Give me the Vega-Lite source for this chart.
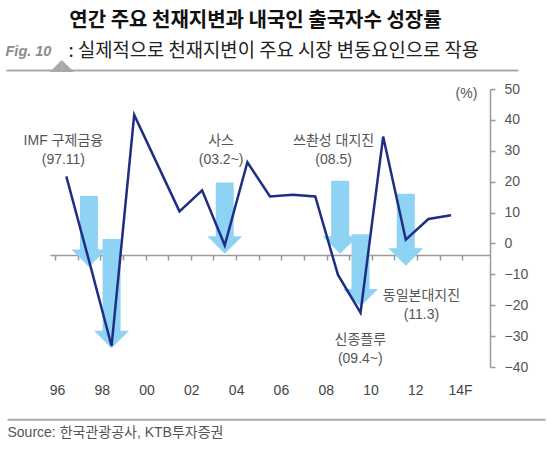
{
  "$schema": "https://vega.github.io/schema/vega-lite/v6.json",
  "width": 485,
  "height": 278,
  "autosize": "none",
  "padding": {"left": 5, "top": 89, "right": 57, "bottom": 86},
  "background": "white",
  "config": {
    "view": {"stroke": null},
    "axis": {"grid": false, "labelFlush": false, "labelOverlap": false},
    "axisY": {"labelOverlap": false}
  },
  "datasets": {
    "growth": [
      {"year": 1996, "value": 21.7},
      {"year": 1997, "value": -5.5},
      {"year": 1998, "value": -33.2},
      {"year": 1999, "value": 41.6},
      {"year": 2000, "value": 26.0},
      {"year": 2001, "value": 10.4},
      {"year": 2002, "value": 17.2},
      {"year": 2003, "value": -0.6},
      {"year": 2004, "value": 26.3},
      {"year": 2005, "value": 15.2},
      {"year": 2006, "value": 15.8},
      {"year": 2007, "value": 15.2},
      {"year": 2008, "value": -10.1},
      {"year": 2009, "value": -22.4},
      {"year": 2010, "value": 34.6},
      {"year": 2011, "value": 1.2},
      {"year": 2012, "value": 7.9},
      {"year": 2013, "value": 9.1}
    ],
    "arrows": [
      {"year": 1997, "top": 15.4, "tip": -7.6},
      {"year": 1998, "top": 1.4, "tip": -33.9},
      {"year": 2003, "top": 19.7, "tip": -3.3},
      {"year": 2008.1, "top": 20.3, "tip": -3.3},
      {"year": 2009, "top": 3.0, "tip": -20.4},
      {"year": 2011, "top": 16.1, "tip": -7.2}
    ],
    "notes": [
      {"year": 1995.87, "value": 33.2, "label": "IMF 구제금융\n(97.11)"},
      {"year": 2002.84, "value": 33.2, "label": "사스\n(03.2~)"},
      {"year": 2007.81, "value": 33.2, "label": "쓰촨성 대지진\n(08.5)"},
      {"year": 2011.69, "value": -16.9, "label": "동일본대지진\n(11.3)"},
      {"year": 2008.99, "value": -31.4, "label": "신종플루\n(09.4~)"}
    ]
  },
  "layer": [
    {
      "encoding": {
        "x": {
          "field": "year",
          "type": "quantitative",
          "scale": {"domain": [1995.5, 2014.5], "range": [45, 485], "nice": false, "zero": false},
          "axis": {
            "orient": "bottom",
            "offset": -112,
            "values": [1995.5, 1996.5, 1997.5, 1998.5, 1999.5, 2000.5, 2001.5, 2002.5, 2003.5, 2004.5, 2005.5, 2006.5, 2007.5, 2008.5, 2009.5, 2010.5, 2011.5, 2012.5, 2013.5],
            "labels": false,
            "ticks": true,
            "tickSize": 5,
            "tickColor": "#9a9a9a",
            "tickWidth": 1.5,
            "domain": true,
            "domainColor": "#9a9a9a",
            "domainWidth": 1.5,
            "grid": false,
            "title": "연간 주요 천재지변과 내국인 출국자수 성장률",
            "titleX": 250,
            "titleY": -235,
            "titleAlign": "center",
            "titleBaseline": "middle",
            "titleFont": "Noto Sans CJK KR",
            "titleFontSize": 20,
            "titleFontWeight": "bold",
            "titleColor": "#111111"
          }
        }
      },
      "layer": [
        {
          "data": {"name": "arrows"},
          "mark": {"type": "bar", "color": "#8fd3f4", "width": 18, "y2Offset": -17},
          "encoding": {
            "y": {
              "field": "top",
              "type": "quantitative",
              "scale": {"domain": [-40, 50], "nice": false, "zero": false},
              "axis": {"orient": "right", "values": [-40, -30, -20, -10, 0, 10, 20, 30, 40, 50], "tickCount": 10, "labelOverlap": false, "labelBound": false, "tickSize": 5, "tickColor": "#9a9a9a", "tickWidth": 1.5, "domainColor": "#9a9a9a", "domainWidth": 1.5, "labelPadding": 9, "labelFont": "Liberation Sans", "labelFontSize": 14, "labelColor": "#555555", "grid": false, "title": "(%)", "titleX": -24, "titleY": 4, "titleAngle": 0, "titleAlign": "center", "titleBaseline": "middle", "titleFont": "Liberation Sans", "titleFontSize": 14, "titleFontWeight": "normal", "titleColor": "#555555"}
            },
            "y2": {"field": "tip"}
          }
        },
        {
          "data": {"name": "arrows"},
          "mark": {"type": "point", "shape": "M-1,-0.5L1,-0.5L0,0.5Z", "size": 1225, "filled": true, "opacity": 1, "color": "#8fd3f4", "strokeWidth": 0, "yOffset": -8.75},
          "encoding": {
            "y": {
              "field": "tip",
              "type": "quantitative",
              "scale": {"domain": [-40, 50], "nice": false, "zero": false},
              "axis": {"orient": "right", "values": [-40, -30, -20, -10, 0, 10, 20, 30, 40, 50], "tickCount": 10, "labelOverlap": false, "labelBound": false, "tickSize": 5, "tickColor": "#9a9a9a", "tickWidth": 1.5, "domainColor": "#9a9a9a", "domainWidth": 1.5, "labelPadding": 9, "labelFont": "Liberation Sans", "labelFontSize": 14, "labelColor": "#555555", "grid": false, "title": "(%)", "titleX": -24, "titleY": 4, "titleAngle": 0, "titleAlign": "center", "titleBaseline": "middle", "titleFont": "Liberation Sans", "titleFontSize": 14, "titleFontWeight": "normal", "titleColor": "#555555"}
            }
          }
        },
        {
          "data": {"name": "growth"},
          "mark": {"type": "line", "color": "#1f2d85", "strokeWidth": 2.5},
          "encoding": {
            "y": {
              "field": "value",
              "type": "quantitative",
              "scale": {"domain": [-40, 50], "nice": false, "zero": false},
              "axis": {"orient": "right", "values": [-40, -30, -20, -10, 0, 10, 20, 30, 40, 50], "tickCount": 10, "labelOverlap": false, "labelBound": false, "tickSize": 5, "tickColor": "#9a9a9a", "tickWidth": 1.5, "domainColor": "#9a9a9a", "domainWidth": 1.5, "labelPadding": 9, "labelFont": "Liberation Sans", "labelFontSize": 14, "labelColor": "#555555", "grid": false, "title": "(%)", "titleX": -24, "titleY": 4, "titleAngle": 0, "titleAlign": "center", "titleBaseline": "middle", "titleFont": "Liberation Sans", "titleFontSize": 14, "titleFontWeight": "normal", "titleColor": "#555555"}
            }
          }
        },
        {
          "data": {"name": "notes"},
          "mark": {"type": "text", "lineBreak": "\n", "lineHeight": 19, "font": "Liberation Sans, Noto Sans CJK KR", "fontSize": 14, "color": "#555555", "align": "center", "baseline": "middle"},
          "encoding": {
            "y": {
              "field": "value",
              "type": "quantitative",
              "scale": {"domain": [-40, 50], "nice": false, "zero": false},
              "axis": {"orient": "right", "values": [-40, -30, -20, -10, 0, 10, 20, 30, 40, 50], "tickCount": 10, "labelOverlap": false, "labelBound": false, "tickSize": 5, "tickColor": "#9a9a9a", "tickWidth": 1.5, "domainColor": "#9a9a9a", "domainWidth": 1.5, "labelPadding": 9, "labelFont": "Liberation Sans", "labelFontSize": 14, "labelColor": "#555555", "grid": false, "title": "(%)", "titleX": -24, "titleY": 4, "titleAngle": 0, "titleAlign": "center", "titleBaseline": "middle", "titleFont": "Liberation Sans", "titleFontSize": 14, "titleFontWeight": "normal", "titleColor": "#555555"}
            },
            "text": {"field": "label"}
          }
        }
      ]
    },
    {
      "data": {"values": []},
      "mark": "point",
      "encoding": {
        "x": {
          "field": "yr",
          "type": "quantitative",
          "scale": {"domain": [1993.767, 2017.795], "range": [2, 540], "nice": false, "zero": false},
          "axis": {
            "orient": "top",
            "offset": -330.3,
            "values": [1996, 1998, 2000, 2002, 2004, 2006, 2008, 2010, 2012, 2014],
            "labelExpr": "datum.value == 2014 ? '14F' : substring(toString(datum.value), 2, 4)",
            "ticks": false,
            "tickSize": 0,
            "domain": true,
            "domainColor": "#a8a8a8",
            "domainWidth": 2,
            "labelPadding": 29,
            "labelBaseline": "middle",
            "labelAlign": "center",
            "labelFont": "Liberation Sans",
            "labelFontSize": 14,
            "labelColor": "#444444",
            "grid": false,
            "title": "Source: 한국관광공사, KTB투자증권",
            "titleX": 2,
            "titleY": 13,
            "titleAlign": "left",
            "titleBaseline": "middle",
            "titleFont": "Liberation Sans, Noto Sans CJK KR",
            "titleFontSize": 14,
            "titleFontWeight": "normal",
            "titleColor": "#555555"
          }
        },
        "y": {
          "field": "v",
          "type": "quantitative",
          "scale": {"domain": [0, 1]},
          "axis": {
            "orient": "left",
            "domain": false,
            "ticks": false,
            "labels": false,
            "grid": false,
            "title": ": 실제적으로 천재지변이 주요 시장 변동요인으로 작용",
            "titleX": 63,
            "titleY": -39,
            "titleAngle": 0,
            "titleAlign": "left",
            "titleBaseline": "middle",
            "titleFont": "Noto Sans CJK KR",
            "titleFontSize": 18.8,
            "titleFontWeight": "normal",
            "titleColor": "#222222"
          }
        }
      }
    },
    {
      "data": {"values": []},
      "mark": "point",
      "encoding": {
        "x": {
          "field": "yr",
          "type": "quantitative",
          "scale": {"domain": [0, 1], "range": [1, 513], "nice": false, "zero": false},
          "axis": {
            "orient": "top",
            "offset": 19,
            "values": [0.108],
            "labelExpr": "'◢◣'",
            "labelOverlap": false,
            "labelBound": false,
            "ticks": true,
            "tickSize": 0,
            "tickOpacity": 0,
            "domain": true,
            "domainColor": "#a8a8a8",
            "domainWidth": 2,
            "labelPadding": 0,
            "labelBaseline": "alphabetic",
            "labelAlign": "center",
            "labelFont": "Noto Sans CJK KR",
            "labelFontSize": 12,
            "labelColor": "#a8a8a8",
            "grid": false,
            "title": "Fig. 10",
            "titleX": 0,
            "titleY": -19,
            "titleAlign": "left",
            "titleBaseline": "middle",
            "titleFont": "Liberation Sans",
            "titleFontSize": 14.5,
            "titleFontWeight": "bold",
            "titleFontStyle": "italic",
            "titleColor": "#8b8b8b"
          }
        }
      }
    }
  ],
  "resolve": {
    "scale": {"x": "independent", "y": "independent"},
    "axis": {"x": "independent", "y": "independent"}
  }
}
